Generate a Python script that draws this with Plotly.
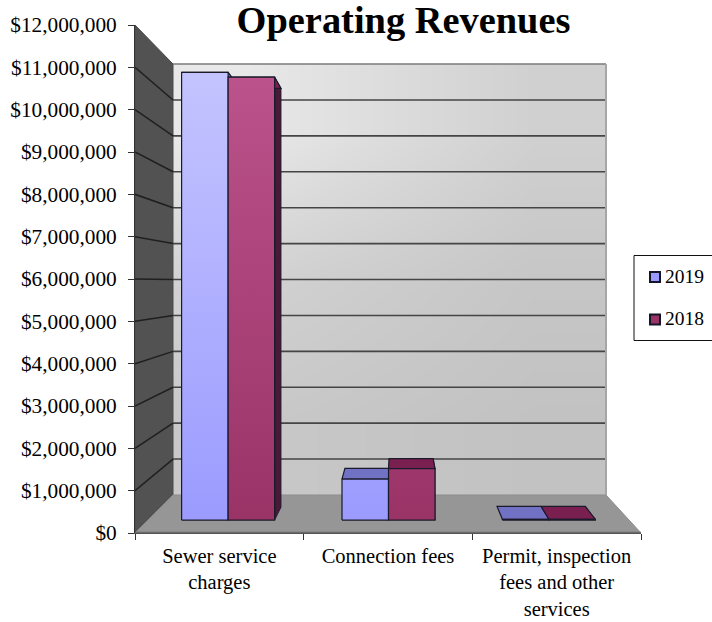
import plotly.graph_objects as go

# Operating revenues by source, in dollars
categories = ["Sewer service<br>charges", "Connection fees", "Permit, inspection<br>fees and other<br>services"]
revenue_2019 = [11150000, 1020000, 20000]
revenue_2018 = [11030000, 1280000, 20000]
years = ["2019", "2018"]

tick_values = list(range(0, 13000000, 1000000))
y_max = 12000000
x_max = 3

# Box model of the 3-D look: depth runs from 0 (front axis) to 1 (back wall)
WALL_INSET_LEFT = 0.2253
WALL_INSET_RIGHT = 0.2075
FLOOR_RISE = 898000
HEIGHT_SHRINK = 0.1517
BAR_FRONT = 0.34
BAR_BACK = 0.68
BAR_WIDTH = 0.29
SERIF = "Liberation Serif"

# Plot-area edges in page pixels, used to place the key beside the chart
AREA_L, AREA_R, AREA_T, AREA_B = 135, 641, 25, 533


def project(u, value, depth):
    left = WALL_INSET_LEFT * depth
    right = x_max - WALL_INSET_RIGHT * depth
    x = left + u / x_max * (right - left)
    y = FLOOR_RISE * depth + value * (1 - HEIGHT_SHRINK * depth)
    return x, y


def face(corners, fill=None, gradient=None, line="#1a1a2a", width=1.2, name=""):
    pts = [project(*c) for c in corners]
    pts.append(pts[0])
    kw = {"fillcolor": fill} if fill else {"fillgradient": gradient}
    return go.Scatter(x=[p[0] for p in pts], y=[p[1] for p in pts], mode="lines", fill="toself",
                      line=dict(color=line, width=width), hoverinfo="skip", showlegend=False,
                      cliponaxis=False, name=name, **kw)


def edge(a, b, color, width):
    pts = [project(*a), project(*b)]
    return go.Scatter(x=[p[0] for p in pts], y=[p[1] for p in pts], mode="lines",
                      line=dict(color=color, width=width), hoverinfo="skip",
                      showlegend=False, cliponaxis=False)


def vertical(bottom, top):
    return dict(type="vertical", start=0, stop=y_max, colorscale=[[0, bottom], [1, top]])


fig = go.Figure()

# Back wall: soft diagonal grey wash, lightest at upper left
bl, br = project(0, 0, 1), project(x_max, 0, 1)
tl = project(0, y_max, 1)
wall_xs = [bl[0] + (br[0] - bl[0]) * f for f in (0, 1 / 3, 2 / 3, 1)]
wall_ys = [bl[1] + (tl[1] - bl[1]) * f for f in (0, 1 / 3, 2 / 3, 1)]
wall_shades = [[200, 197, 194], [210, 204, 198], [232, 220, 208]]
fig.add_trace(go.Heatmap(x=wall_xs, y=wall_ys, z=wall_shades, zmin=0, zmax=255, zsmooth="best",
                         colorscale=[[0, "#000000"], [1, "#ffffff"]], showscale=False, hoverinfo="skip"))

# Side wall and floor
fig.add_trace(face([(0, 0, 0), (0, y_max, 0), (0, y_max, 1), (0, 0, 1)], fill="#525252", line="#4a4a4a", width=1))
fig.add_trace(face([(0, 0, 0), (x_max, 0, 0), (x_max, 0, 1), (0, 0, 1)], fill="#969696", line="#8e8e8e", width=1))

# Gridlines bend at the wall corner
for t in tick_values[1:]:
    grid_col = "#7a7a7a" if t == y_max else "#454545"
    fig.add_trace(edge((0, t, 1), (x_max, t, 1), grid_col, 1.6))
    if t < y_max:
        fig.add_trace(edge((0, t, 0), (0, t, 1), "#1f1f1f", 1.5))
fig.add_trace(edge((x_max, 0, 1), (x_max, y_max, 1), "#a6a6a6", 2))
fig.add_trace(edge((0, 0, 0), (x_max, 0, 0), "#6a6a6a", 2.5))

# Bars, each with side, top and front faces
series = [
    (revenue_2019, -1, "#9a9aff", "#c8c8ff", "#7272c4", "#5a5aa0"),
    (revenue_2018, 0, "#993366", "#bf5690", "#7a2050", "#471a38"),
]
for cat in range(len(categories)):
    for values, offset, low, high, top_col, side_col in series:
        v = values[cat]
        u0 = cat + 0.5 + offset * BAR_WIDTH
        u1 = u0 + BAR_WIDTH
        fig.add_trace(face([(u1, 0, BAR_FRONT), (u1, 0, BAR_BACK), (u1, v, BAR_BACK), (u1, v, BAR_FRONT)],
                           fill=side_col, width=0.8))
        fig.add_trace(face([(u0, v, BAR_FRONT), (u0, v, BAR_BACK), (u1, v, BAR_BACK), (u1, v, BAR_FRONT)],
                           fill=top_col))
        fig.add_trace(face([(u0, 0, BAR_FRONT), (u1, 0, BAR_FRONT), (u1, v, BAR_FRONT), (u0, v, BAR_FRONT)],
                           gradient=vertical(low, high)))


def page_x(px):
    return (px - AREA_L) / (AREA_R - AREA_L)


def page_y(px):
    return (AREA_B - px) / (AREA_B - AREA_T)


# Key to the right of the plot
key_shapes = [dict(type="rect", xref="paper", yref="paper", x0=page_x(634), x1=page_x(716),
                   y0=page_y(340.5), y1=page_y(255.5), line=dict(color="#111111", width=1),
                   fillcolor="#ffffff")]
key_notes = []
for year, swatch, mid in zip(years, ["#9999ff", "#993366"], [277, 319.5]):
    key_shapes.append(dict(type="rect", xref="paper", yref="paper", x0=page_x(650), x1=page_x(660),
                           y0=page_y(mid + 5), y1=page_y(mid - 5), fillcolor=swatch,
                           line=dict(color="#15152a", width=2)))
    key_notes.append(dict(text=year, xref="paper", yref="paper", x=page_x(663), y=page_y(mid - 1),
                          xanchor="left", yanchor="middle", showarrow=False,
                          font=dict(family=SERIF, size=19.5, color="#000000")))

fig.update_layout(
    width=712, height=622, autosize=False,
    margin=dict(l=AREA_L, r=712 - AREA_R, t=AREA_T, b=622 - AREA_B, autoexpand=False),
    paper_bgcolor="#ffffff", plot_bgcolor="#ffffff", showlegend=False,
    title=dict(text="<b>Operating Revenues</b>", x=page_x(403.5), xref="paper", xanchor="center",
               y=1 - 20 / 622, yref="container", yanchor="middle",
               font=dict(family=SERIF, size=38.4, color="#000000")),
    shapes=key_shapes, annotations=key_notes,
    xaxis=dict(range=[0, x_max], tickvals=[0.5, 1.5, 2.5], ticktext=categories, ticks="",
               showgrid=False, zeroline=False, showline=True, linecolor="#555555", linewidth=1,
               tickfont=dict(family=SERIF, size=20.5, color="#000000"), ticklabelstandoff=4,
               minor=dict(tickvals=[0, 1, 2, 3], ticks="outside", ticklen=6, tickcolor="#333333", showgrid=False)),
    yaxis=dict(range=[0, y_max], tickvals=tick_values, tickformat="$,.0f", ticks="outside", ticklen=6,
               tickcolor="#333333", showgrid=False, zeroline=False, showline=True, linecolor="#333333",
               linewidth=1, tickfont=dict(family=SERIF, size=21.3, color="#000000"), ticklabelstandoff=7),
)

fig.write_html("out.html")
